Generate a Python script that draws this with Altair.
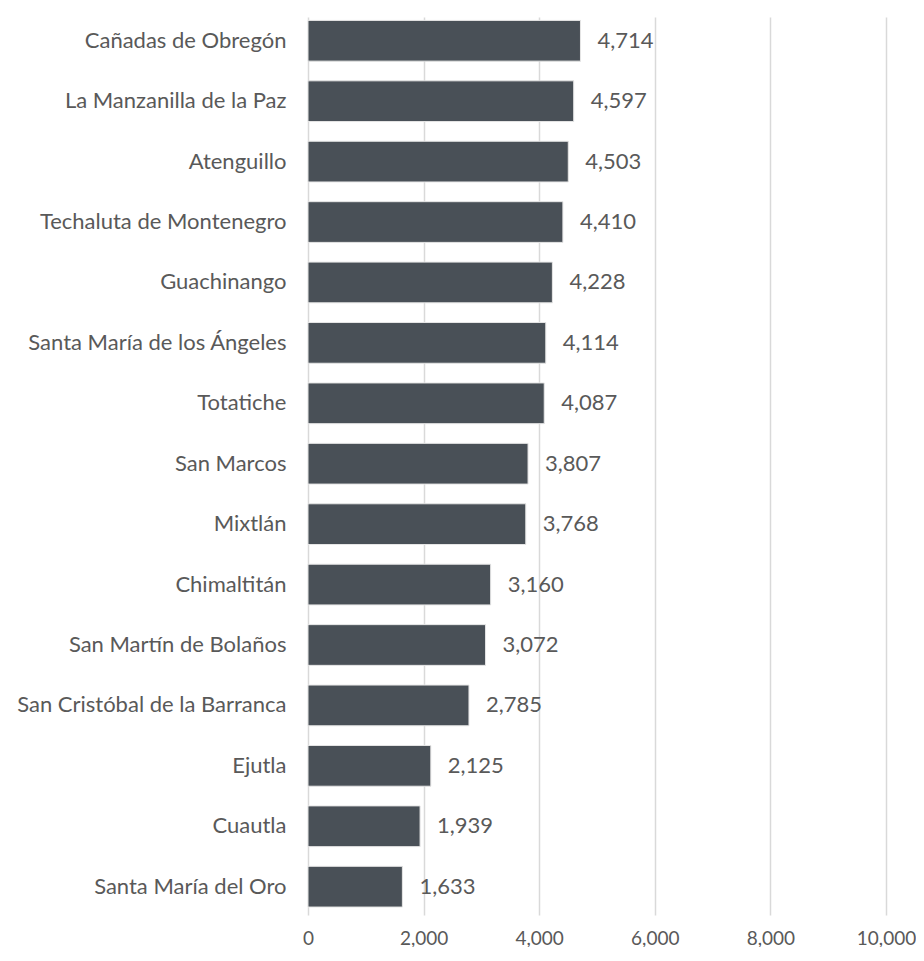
import altair as alt
import pandas as pd

municipios = [
    "Cañadas de Obregón", "La Manzanilla de la Paz", "Atenguillo",
    "Techaluta de Montenegro", "Guachinango", "Santa María de los Ángeles",
    "Totatiche", "San Marcos", "Mixtlán", "Chimaltitán",
    "San Martín de Bolaños", "San Cristóbal de la Barranca", "Ejutla",
    "Cuautla", "Santa María del Oro",
]
valores = [4714, 4597, 4503, 4410, 4228, 4114, 4087, 3807, 3768, 3160,
           3072, 2785, 2125, 1939, 1633]
ticks = [0, 2000, 4000, 6000, 8000, 10000]

df = pd.DataFrame({"municipio": municipios, "valor": valores})

FONT = "Lato"
TXT = "#595959"
FS = 22

base = alt.Chart(df).encode(
    y=alt.Y("municipio:N", sort=municipios, title=None,
            scale=alt.Scale(paddingInner=0.326, paddingOuter=0.094, align=0.3),
            axis=alt.Axis(domain=False, ticks=False, labelPadding=22,
                          labelFont=FONT, labelFontSize=FS, labelColor=TXT,
                          labelLimit=400)),
)

bars = base.mark_bar(color="#495057", stroke="#e6e6e6", strokeWidth=1).encode(
    x=alt.X("valor:Q", title=None,
            scale=alt.Scale(domain=[0, 10000]),
            axis=alt.Axis(values=ticks, labelExpr="format(datum.value, ',')",
                          domain=False, ticks=False,
                          grid=True, gridColor="#d9d9d9", gridWidth=1.5,
                          labelPadding=14, labelFont=FONT, labelFontSize=19,
                          labelColor=TXT, labelFlush=False)),
)

labels = base.mark_text(align="left", baseline="middle", dx=17,
                        font=FONT, fontSize=FS, color=TXT).encode(
    x="valor:Q",
    text=alt.Text("valor:Q", format=","),
)

chart = (bars + labels).properties(
    width=578, height=898,
    background="white",
    autosize=alt.AutoSizeParams(type="none"),
    padding={"left": 300, "top": 9, "right": 30, "bottom": 32},
).configure_view(stroke=None)

chart.save("out.html", embed_options={"renderer": "svg", "actions": False})
